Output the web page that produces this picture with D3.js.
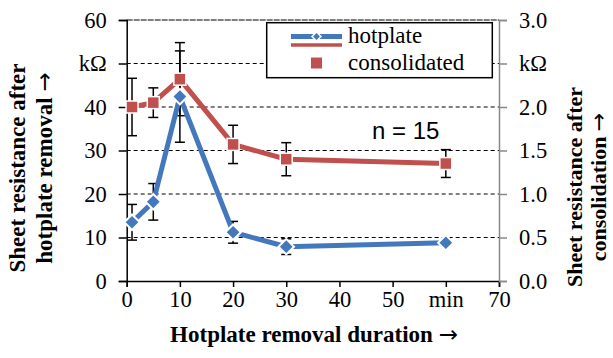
<!DOCTYPE html>
<html><head><meta charset="utf-8">
<script src="https://cdn.jsdelivr.net/npm/d3@7"></script>
<style>
html,body{margin:0;padding:0;background:#fff;}
svg{display:block;}
.serif{font-family:"Liberation Serif","Times New Roman",serif;}
.arrow{font-family:"DejaVu Sans",sans-serif;font-weight:normal;}
</style></head>
<body>
<svg id="chart" width="613" height="358"></svg>
<script>
// ---- data ----
const durations = [1, 5, 10, 20, 30, 60];
const hotplate = [13.5, 18.2, 42.4, 11.2, 7.9, 8.8];
const hotplateErr = [4.1, 4.2, 10.5, 2.5, 1.8, 0.8];
const consolidated = [2.0, 2.05, 2.32, 1.57, 1.40, 1.35];
const consolidatedErr = [0.33, 0.17, 0.42, 0.22, 0.19, 0.16];
const xTicks = [0, 10, 20, 30, 40, 50, 60, 70];
const xTickLabels = ["0", "10", "20", "30", "40", "50", "min", "70"];
const yLeftTicks = [0, 10, 20, 30, 40, 50, 60];
const yLeftLabels = ["0", "10", "20", "30", "40", "kΩ", "60"];
const yRightTicks = [0, 0.5, 1.0, 1.5, 2.0, 2.5, 3.0];
const yRightLabels = ["0.0", "0.5", "1.0", "1.5", "2.0", "kΩ", "3.0"];
const seriesNames = ["hotplate", "consolidated"];

const blue = "#4478bd", red = "#c0504d";
const sans = "'Liberation Sans',Arial,sans-serif";

const svg = d3.select("#chart");
const x = d3.scaleLinear().domain([0, 70]).range([126.7, 499]);
const yL = d3.scaleLinear().domain([0, 60]).range([281, 20]);
const yR = d3.scaleLinear().domain([0, 3]).range([281, 20]);

// gridlines
svg.append("g").selectAll("line").data(yLeftTicks.filter(d => d > 0)).join("line")
  .attr("x1", x(0)).attr("x2", x(70))
  .attr("y1", d => yL(d)).attr("y2", d => yL(d))
  .attr("stroke", "#000").attr("stroke-width", 1)
  .attr("stroke-dasharray", d => d === 60 ? "6,1" : "4,3");

// axes
const tfs = "22.5px";
function styleTicks(g, col) {
  g.attr("font-family", null).attr("font-size", null);
  g.select(".domain").attr("stroke", col).attr("stroke-width", 1.5);
  g.selectAll(".tick line").attr("stroke", col).attr("stroke-width", 1.5);
  g.selectAll("text").attr("class", "serif").style("font-size", tfs).attr("fill", "#000");
}
const gx = svg.append("g").attr("transform", `translate(0,${yL(0)})`)
  .call(d3.axisBottom(x).tickValues(xTicks).tickFormat((d, i) => xTickLabels[i]).tickSize(6).tickPadding(4));
styleTicks(gx, "#000");

const gl = svg.append("g").attr("transform", `translate(${x(0)},0)`)
  .call(d3.axisLeft(yL).tickValues(yLeftTicks).tickFormat((d, i) => yLeftLabels[i]).tickSize(8).tickPadding(12));
styleTicks(gl, "#000");

const gr = svg.append("g").attr("transform", `translate(${x(70)},0)`)
  .call(d3.axisRight(yR).tickValues(yRightTicks).tickFormat((d, i) => yRightLabels[i]).tickSize(8).tickPadding(12));
styleTicks(gr, "#888");

// error bars
function errBars(vals, errs, y) {
  const g = svg.append("g").attr("stroke", "#000").attr("stroke-width", 1.5);
  durations.forEach((d, i) => {
    const cx = x(d), t = y(vals[i] + errs[i]), b = y(vals[i] - errs[i]);
    g.append("line").attr("x1", cx).attr("x2", cx).attr("y1", t).attr("y2", b);
    g.append("line").attr("x1", cx - 5).attr("x2", cx + 5).attr("y1", t).attr("y2", t);
    g.append("line").attr("x1", cx - 5).attr("x2", cx + 5).attr("y1", b).attr("y2", b);
  });
}
errBars(consolidated, consolidatedErr, yR);
errBars(hotplate, hotplateErr, yL);

// lines
const lineL = d3.line().x((d, i) => x(durations[i])).y(d => yL(d));
const lineR = d3.line().x((d, i) => x(durations[i])).y(d => yR(d));
svg.append("path").attr("d", lineR(consolidated)).attr("fill", "none")
  .attr("stroke", red).attr("stroke-width", 5);
svg.append("path").attr("d", lineL(hotplate)).attr("fill", "none")
  .attr("stroke", blue).attr("stroke-width", 5);

// markers
const diamond = d3.symbol().type(d3.symbolSquare).size(120);
svg.append("g").selectAll("path").data(hotplate).join("path")
  .attr("d", diamond())
  .attr("transform", (d, i) => `translate(${x(durations[i])},${yL(d)}) rotate(45)`)
  .attr("fill", blue).attr("stroke", "#fff").attr("stroke-width", 2);
svg.append("g").selectAll("rect").data(consolidated).join("rect")
  .attr("x", (d, i) => x(durations[i]) - 6).attr("y", d => yR(d) - 6)
  .attr("width", 12).attr("height", 12)
  .attr("fill", red).attr("stroke", "#fff").attr("stroke-width", 1.5);

// legend
const lg = svg.append("g");
lg.append("rect").attr("x", 266.7).attr("y", 22.7).attr("width", 225.6).attr("height", 55)
  .attr("fill", "#fff").attr("stroke", "#000").attr("stroke-width", 1.5);
lg.append("line").attr("x1", 291).attr("x2", 342).attr("y1", 36.5).attr("y2", 36.5)
  .attr("stroke", blue).attr("stroke-width", 5);
lg.append("line").attr("x1", 291).attr("x2", 342).attr("y1", 45).attr("y2", 45)
  .attr("stroke", red).attr("stroke-width", 3.5);
lg.append("path").attr("d", d3.symbol().type(d3.symbolSquare).size(40)())
  .attr("transform", "translate(316.5,36.5) rotate(45)")
  .attr("fill", blue).attr("stroke", "#fff").attr("stroke-width", 1.5);
lg.append("rect").attr("x", 311).attr("y", 57.5).attr("width", 11).attr("height", 11)
  .attr("fill", red);
lg.append("text").attr("class", "serif").attr("x", 348).attr("y", 43).text(seriesNames[0])
  .style("font-size", "23px");
lg.append("text").attr("class", "serif").attr("x", 348).attr("y", 70).text(seriesNames[1])
  .style("font-size", "23px");

// annotation
svg.append("text").attr("x", 372).attr("y", 139).text("n = 15")
  .attr("font-family", sans).attr("font-size", "24px");

// axis titles
const xt = svg.append("text").attr("class", "serif").attr("x", 314).attr("y", 342).attr("text-anchor", "middle")
  .style("font-size", "23px").attr("font-weight", "bold");
xt.append("tspan").text("Hotplate removal duration ");
xt.append("tspan").attr("class", "arrow").text("→");

const lt = svg.append("text").attr("class", "serif").attr("transform", "translate(0,168) rotate(-90)")
  .attr("text-anchor", "middle").style("font-size", "23px").attr("font-weight", "bold");
lt.append("tspan").attr("x", 0).attr("y", 25).text("Sheet resistance after");
const lt2 = lt.append("tspan").attr("x", 0).attr("y", 52);
lt2.append("tspan").text("hotplate removal ");
lt2.append("tspan").attr("class", "arrow").text("→");

const rt = svg.append("text").attr("class", "serif").attr("transform", "translate(0,187) rotate(-90)")
  .attr("text-anchor", "middle").style("font-size", "22px").attr("font-weight", "bold");
rt.append("tspan").attr("x", 0).attr("y", 582).text("Sheet resistance after");
const rt2 = rt.append("tspan").attr("x", 0).attr("y", 606);
rt2.append("tspan").text("consolidation ");
rt2.append("tspan").attr("class", "arrow").text("→");
</script>
</body></html>
